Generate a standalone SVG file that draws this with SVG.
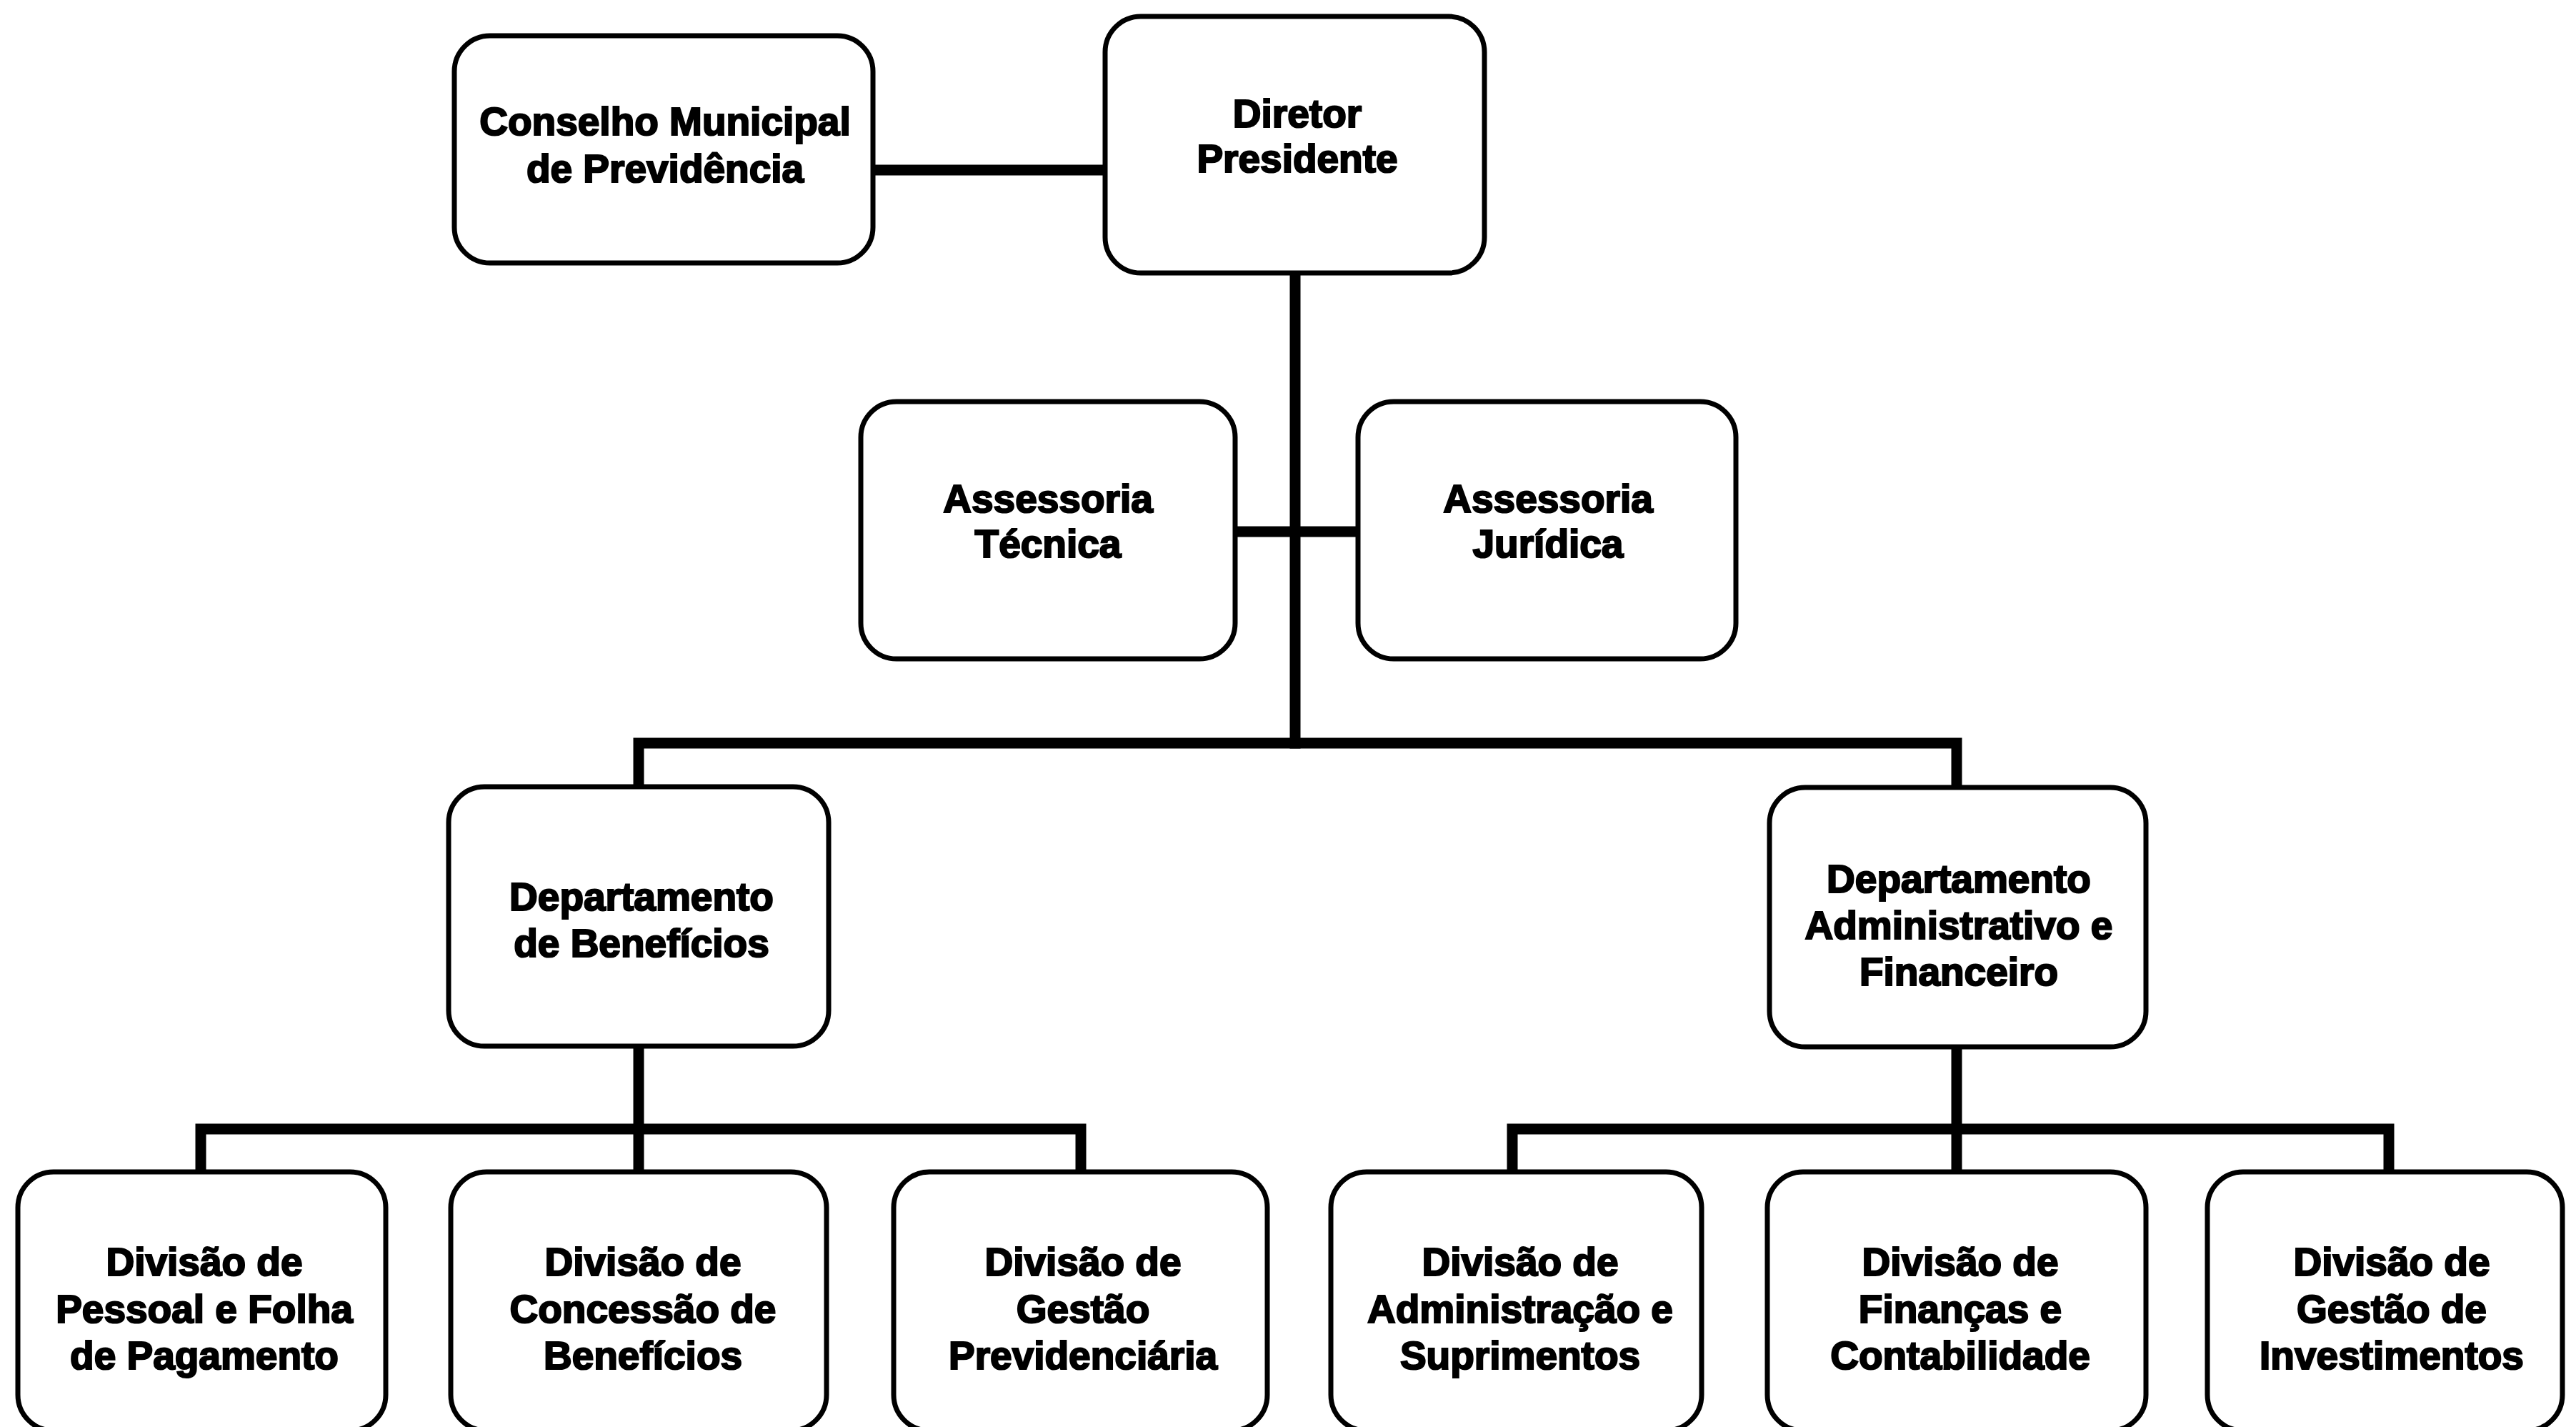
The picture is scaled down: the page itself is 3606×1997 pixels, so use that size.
<svg xmlns="http://www.w3.org/2000/svg" width="3606" height="1997" viewBox="0 0 3606 1997">
<style>
.bg{fill:#ffffff}
.box{fill:#ffffff;stroke:#000000;stroke-width:7}
.lbl{font-family:"Liberation Sans",Arial,sans-serif;font-weight:bold;font-size:55px;fill:#000000;stroke:#000000;stroke-width:2.2;text-anchor:middle}
.conn{fill:none;stroke:#000000;stroke-width:15;stroke-linecap:square;stroke-linejoin:miter}
</style>
<rect class="bg" x="0" y="0" width="3606" height="1997"/>
<g id="connectors">
<path class="conn" d="M1222,238 H1547"/>
<path class="conn" d="M1813,382 V1040"/>
<path class="conn" d="M1729,744 H1901"/>
<path class="conn" d="M894,1101 V1040 H2739 V1102"/>
<path class="conn" d="M894,1464 V1640"/>
<path class="conn" d="M281,1640 V1580 H1513 V1640"/>
<path class="conn" d="M2739,1465 V1640"/>
<path class="conn" d="M2117,1640 V1580 H3344 V1640"/>
</g>
<g id="conselho">
<rect class="box" x="636" y="50" width="586" height="318" rx="50" ry="50"/>
<text class="lbl" x="931" y="189">Conselho Municipal</text>
<text class="lbl" x="931" y="255">de Previdência</text>
</g>
<g id="diretor">
<rect class="box" x="1547" y="23" width="531" height="359" rx="50" ry="50"/>
<text class="lbl" x="1816" y="178">Diretor</text>
<text class="lbl" x="1816" y="241">Presidente</text>
</g>
<g id="assessoria-tecnica">
<rect class="box" x="1205" y="562" width="524" height="360" rx="50" ry="50"/>
<text class="lbl" x="1467" y="717">Assessoria</text>
<text class="lbl" x="1467" y="780">Técnica</text>
</g>
<g id="assessoria-juridica">
<rect class="box" x="1901" y="562" width="529" height="360" rx="50" ry="50"/>
<text class="lbl" x="2167" y="717">Assessoria</text>
<text class="lbl" x="2167" y="780">Jurídica</text>
</g>
<g id="dept-beneficios">
<rect class="box" x="628" y="1101" width="532" height="363" rx="50" ry="50"/>
<text class="lbl" x="898" y="1274">Departamento</text>
<text class="lbl" x="898" y="1339">de Benefícios</text>
</g>
<g id="dept-administrativo">
<rect class="box" x="2477" y="1102" width="527" height="363" rx="50" ry="50"/>
<text class="lbl" x="2742" y="1249">Departamento</text>
<text class="lbl" x="2742" y="1314">Administrativo e</text>
<text class="lbl" x="2742" y="1379">Financeiro</text>
</g>
<g id="div-pessoal">
<rect class="box" x="25" y="1640" width="515" height="362" rx="50" ry="50"/>
<text class="lbl" x="286" y="1785">Divisão de</text>
<text class="lbl" x="286" y="1851">Pessoal e Folha</text>
<text class="lbl" x="286" y="1916">de Pagamento</text>
</g>
<g id="div-concessao">
<rect class="box" x="631" y="1640" width="526" height="362" rx="50" ry="50"/>
<text class="lbl" x="900" y="1785">Divisão de</text>
<text class="lbl" x="900" y="1851">Concessão de</text>
<text class="lbl" x="900" y="1916">Benefícios</text>
</g>
<g id="div-gestao-prev">
<rect class="box" x="1251" y="1640" width="523" height="362" rx="50" ry="50"/>
<text class="lbl" x="1516" y="1785">Divisão de</text>
<text class="lbl" x="1516" y="1851">Gestão</text>
<text class="lbl" x="1516" y="1916">Previdenciária</text>
</g>
<g id="div-administracao">
<rect class="box" x="1863" y="1640" width="519" height="362" rx="50" ry="50"/>
<text class="lbl" x="2128" y="1785">Divisão de</text>
<text class="lbl" x="2128" y="1851">Administração e</text>
<text class="lbl" x="2128" y="1916">Suprimentos</text>
</g>
<g id="div-financas">
<rect class="box" x="2474" y="1640" width="530" height="362" rx="50" ry="50"/>
<text class="lbl" x="2744" y="1785">Divisão de</text>
<text class="lbl" x="2744" y="1851">Finanças e</text>
<text class="lbl" x="2744" y="1916">Contabilidade</text>
</g>
<g id="div-investimentos">
<rect class="box" x="3090" y="1640" width="497" height="362" rx="50" ry="50"/>
<text class="lbl" x="3348" y="1785">Divisão de</text>
<text class="lbl" x="3348" y="1851">Gestão de</text>
<text class="lbl" x="3348" y="1916">Investimentos</text>
</g>
</svg>
